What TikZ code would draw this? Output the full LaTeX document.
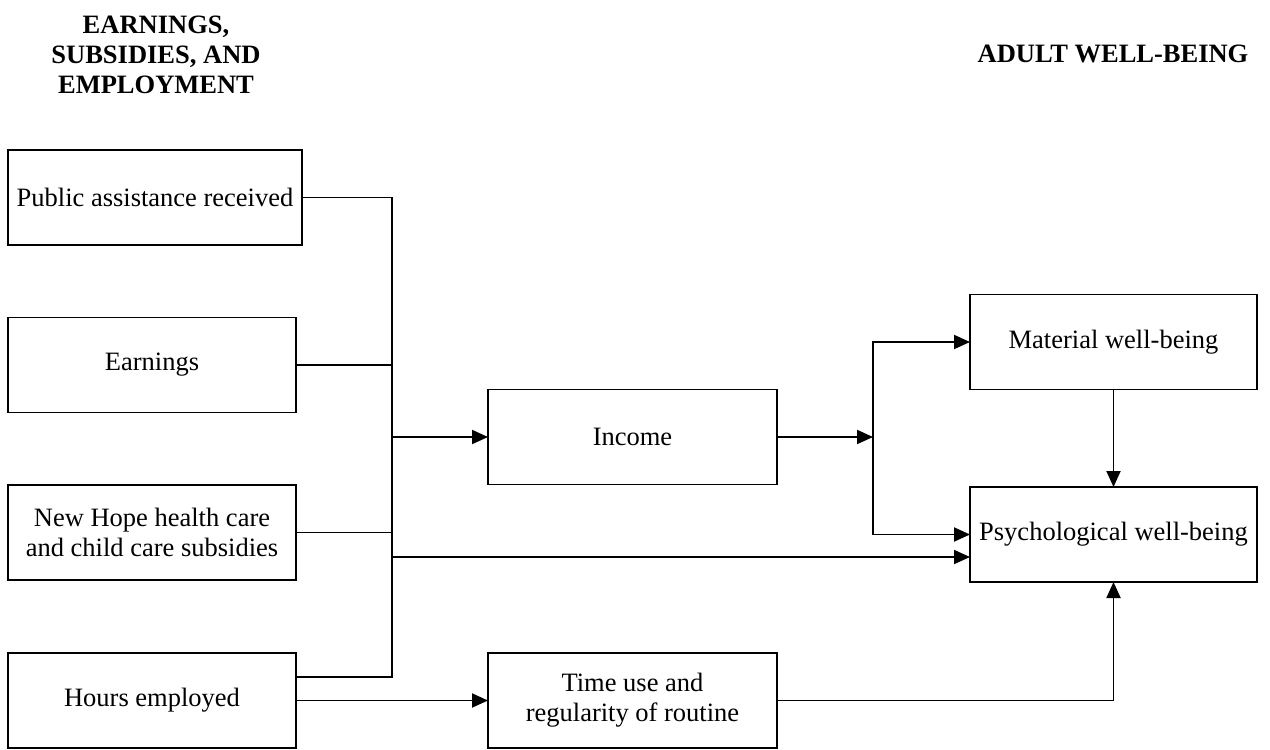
\documentclass[tikz,border=0pt]{standalone}
\usepackage{fontspec}
\setmainfont{Liberation Serif}
\usetikzlibrary{arrows.meta,calc}
\begin{document}
\begin{tikzpicture}[x=1pt,y=-1pt,
  box/.style={draw, line width=1.9pt, inner sep=2pt, outer sep=0pt,
    align=center, minimum height=95pt,
    font=\fontsize{26.5}{30}\selectfont},
  head/.style={align=center, inner sep=0pt,
    font=\fontsize{26.5}{30}\selectfont\bfseries},
  link/.style={line width=1.9pt},
  arr/.style={link, -{Triangle[length=16pt,width=14pt]}}]
\useasboundingbox (0,0) rectangle (1270,750);

% column headings
\node[head] (h1) at (156,55) {EARNINGS,\\SUBSIDIES, AND\\EMPLOYMENT};
\node[head] (h2) at (1113,54) {ADULT WELL-BEING};

% boxes
\node[box, minimum width=294pt] (pub) at (155,197.5) {Public assistance received};
\node[box, minimum width=288pt] (earn) at (152,365) {Earnings};
\node[box, minimum width=288pt] (sub) at (152,532.5) {New Hope health care\\and child care subsidies};
\node[box, minimum width=288pt] (hours) at (152,700.5) {Hours employed};
\node[box, minimum width=289pt] (inc) at (632.5,437) {Income};
\node[box, minimum width=289pt] (time) at (632.5,700.5) {Time use and\\regularity of routine};
\node[box, minimum width=287pt] (mat) at (1113.5,342) {Material well-being};
\node[box, minimum width=287pt] (psy) at (1113.5,534.5) {Psychological well-being};

% collecting line on the left
\coordinate (bustop) at (392,197.5);
\coordinate (busbot) at (392,677);
\coordinate (psylow) at ([yshift=-22.5pt]psy.west);
\draw[link] (pub.east) -- (bustop) -- (busbot) -- (hours.east |- busbot);
\draw[link] (earn.east) -- (earn.east -| bustop);
\draw[link] (sub.east) -- (sub.east -| bustop);
\draw[arr] (bustop |- inc.west) -- (inc.west);
\draw[arr] (bustop |- psylow) -- (psylow);

% income to well-being
\coordinate (split) at (873,437);
\draw[arr] (inc.east) -- (split);
\draw[arr] (split) |- (mat.west);
\draw[arr] (split) |- (psy.west);
\draw[arr] (mat.south) -- (psy.north);

% hours to time use to well-being
\draw[arr] (hours.east) -- (time.west);
\draw[arr] (time.east) -| (psy.south);
\end{tikzpicture}
\end{document}
